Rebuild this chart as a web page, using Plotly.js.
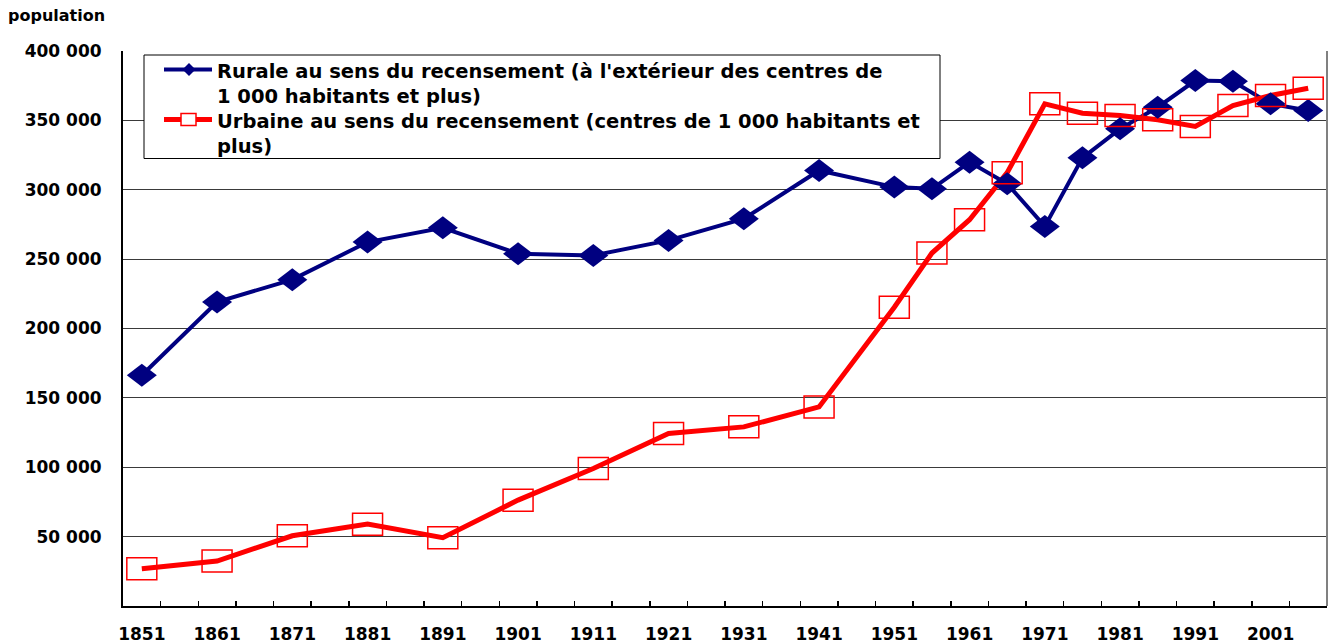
<!DOCTYPE html>
<html>
<head>
<meta charset="utf-8">
<script src="https://cdn.plot.ly/plotly-3.0.1.min.js"></script>
<style>
  html, body { margin: 0; padding: 0; background: #ffffff; }
  #chart { width: 1333px; height: 644px; }
</style>
</head>
<body>
<div id="chart"></div>
<script>
// ---- Data ----
const years = [1851, 1861, 1871, 1881, 1891, 1901, 1911, 1921, 1931, 1941,
               1951, 1956, 1961, 1966, 1971, 1976, 1981, 1986, 1991, 1996, 2001, 2006];

const rurale = [166300, 219100, 235200, 262300, 272600, 253900, 252700, 263500, 279100, 313900,
                301900, 300700, 319900, 304300, 273600, 323000, 343900, 359500, 378700, 378200, 361900, 357100];

const urbaine = [26900, 32400, 50600, 59000, 49200, 76300, 99100, 124300, 129100, 143500,
                 215300, 254400, 278400, 312300, 361900, 355200, 353500, 350400, 345600, 360700, 367900, 373200];

const ruraleLegend = ["Rurale au sens du recensement (à l'extérieur des centres de", "1 000 habitants et plus)"];
const urbaineLegend = ["Urbaine au sens du recensement (centres de 1 000 habitants et", "plus)"];

const xTickVals = [1851, 1861, 1871, 1881, 1891, 1901, 1911, 1921, 1931, 1941, 1951, 1961, 1971, 1981, 1991, 2001];
const xTickText = ["1851", "1861", "1871", "1881", "1891", "1901", "1911", "1921", "1931", "1941", "1951", "1961", "1971", "1981", "1991", "2001"];

const yTickVals = [50000, 100000, 150000, 200000, 250000, 300000, 350000, 400000];
const yTickText = ["50 000", "100 000", "150 000", "200 000", "250 000", "300 000", "350 000", "400 000"];

const yAxisLabel = "population";

// ---- Styles / layout geometry (pixels) ----
const NAVY = "#000080";
const RED = "#ff0000";
const FONT = "DejaVu Sans";
const W = 1333, H = 644;
const M = { l: 123, r: 6, t: 51, b: 38 };
const PW = W - M.l - M.r, PH = H - M.t - M.b;
const px = v => (v - M.l) / PW;          // pixel x -> paper x
const py = v => (H - M.b - v) / PH;      // pixel y -> paper y

const traces = [
  { x: years, y: rurale, type: "scatter", mode: "lines", name: ruraleLegend.join(" "),
    line: { color: NAVY, width: 4 }, showlegend: false },
  { x: years, y: urbaine, type: "scatter", mode: "lines", name: urbaineLegend.join(" "),
    line: { color: RED, width: 5 }, showlegend: false },
  // helper trace for the minor tick axis
  { x: [null], y: [null], xaxis: "x2", type: "scatter", mode: "lines", showlegend: false, hoverinfo: "skip" }
];

const shapes = [];
// legend box
shapes.push({ type: "rect", xref: "paper", yref: "paper",
  x0: px(144), x1: px(940), y0: py(158.5), y1: py(55),
  fillcolor: "#ffffff", line: { color: "#000000", width: 1 }, layer: "above" });
// legend samples
const s1y = 69.5, s2y = 119.5;
shapes.push({ type: "line", xref: "paper", yref: "paper", x0: px(164), x1: px(212), y0: py(s1y), y1: py(s1y),
  line: { color: NAVY, width: 4 }, layer: "above" });
shapes.push({ type: "path", xref: "paper", yref: "paper", xsizemode: "pixel", ysizemode: "pixel",
  xanchor: px(189), yanchor: py(s1y), path: "M-6.5,0L0,6.5L6.5,0L0,-6.5Z",
  fillcolor: NAVY, line: { width: 0 }, layer: "above" });
shapes.push({ type: "line", xref: "paper", yref: "paper", x0: px(164), x1: px(212), y0: py(s2y), y1: py(s2y),
  line: { color: RED, width: 5 }, layer: "above" });
shapes.push({ type: "rect", xref: "paper", yref: "paper", xsizemode: "pixel", ysizemode: "pixel",
  xanchor: px(188.5), yanchor: py(s2y), x0: -7.5, x1: 7.5, y0: -6, y1: 6,
  fillcolor: "#ffffff", line: { color: RED, width: 1.5 }, layer: "above" });

// data markers
years.forEach((yr, i) => {
  shapes.push({
    type: "path", xref: "x", yref: "y",
    xsizemode: "pixel", ysizemode: "pixel",
    xanchor: yr, yanchor: rurale[i],
    path: "M-15,0L0,11.5L15,0L0,-11.5Z",
    fillcolor: NAVY, line: { width: 0 }, layer: "above"
  });
});
years.forEach((yr, i) => {
  shapes.push({
    type: "rect", xref: "x", yref: "y",
    xsizemode: "pixel", ysizemode: "pixel",
    xanchor: yr, yanchor: urbaine[i],
    x0: -15, x1: 15, y0: -11, y1: 11,
    fillcolor: "rgba(0,0,0,0)", line: { color: RED, width: 1.5 }, layer: "above"
  });
});
// right frame line
shapes.push({
  type: "line", xref: "paper", yref: "paper", x0: 1, x1: 1, y0: 0, y1: 1,
  line: { color: "#808080", width: 2 }, layer: "above"
});

const legendFont = { family: FONT, size: 19.5, weight: 700, color: "#000000" };
const legendItems = [
  { lines: ruraleLegend, top: 57.5 },
  { lines: urbaineLegend, top: 107.5 }
];
const annotations = legendItems.map(l => ({
  text: l.lines.join("<br>"), xref: "paper", yref: "paper", x: px(215), y: py(l.top),
  xanchor: "left", yanchor: "top", showarrow: false, align: "left", font: legendFont
}));

const layout = {
  width: W, height: H,
  margin: { l: M.l, r: M.r, t: M.t, b: M.b, pad: 0 },
  paper_bgcolor: "#ffffff", plot_bgcolor: "#ffffff",
  font: { family: FONT, color: "#000000", size: 17, weight: 700 },
  title: {
    text: yAxisLabel, xref: "container", yref: "container",
    x: 8 / W, xanchor: "left", y: 1 - 15 / H, yanchor: "middle",
    font: { family: FONT, size: 16, weight: 700, color: "#000000" }
  },
  xaxis: {
    range: [1848.5, 2008.5], tickmode: "array", tickvals: xTickVals, ticktext: xTickText,
    ticks: "", showgrid: false, zeroline: false,
    showline: true, linecolor: "#000000", linewidth: 2,
    ticklabelstandoff: 12,
    tickfont: { family: FONT, size: 17, weight: 700, color: "#000000" }
  },
  xaxis2: {
    overlaying: "x", anchor: "y", side: "bottom", range: [1848.5, 2008.5],
    tickmode: "linear", tick0: 1853.5, dtick: 5,
    ticks: "inside", ticklen: 5, tickwidth: 1.5, tickcolor: "#000000",
    showticklabels: false, showgrid: false, zeroline: false, showline: false
  },
  yaxis: {
    range: [0, 400000], tickmode: "array", tickvals: yTickVals, ticktext: yTickText,
    ticks: "", showgrid: true, gridcolor: "#3a3a3a", gridwidth: 1,
    zeroline: false, showline: true, linecolor: "#000000", linewidth: 2,
    ticklabelstandoff: 16,
    tickfont: { family: FONT, size: 17, weight: 700, color: "#000000" }
  },
  shapes: shapes,
  annotations: annotations,
  showlegend: false,
  hovermode: false
};

Plotly.newPlot("chart", traces, layout, { displayModeBar: false, staticPlot: true });
</script>
</body>
</html>
